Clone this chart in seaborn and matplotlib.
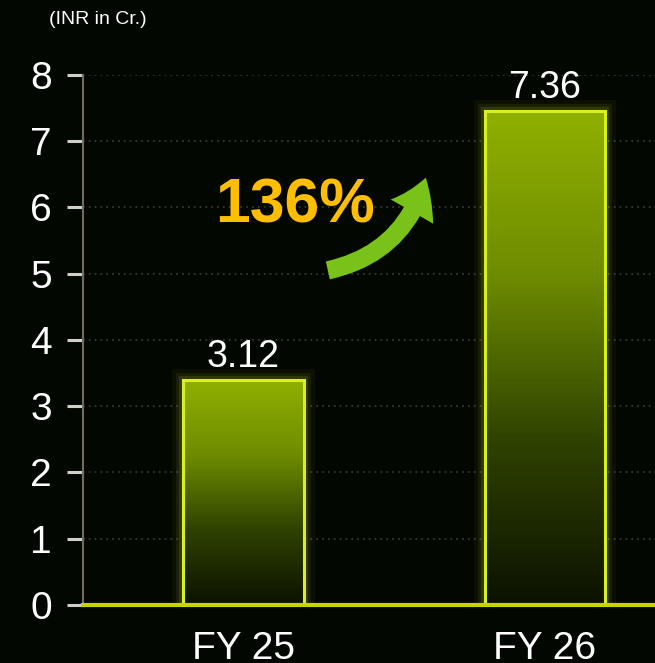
import numpy as np
import pandas as pd
import seaborn as sns
import matplotlib.pyplot as plt
from matplotlib.colors import LinearSegmentedColormap
from matplotlib.patches import Rectangle

# data
categories = ['FY 25', 'FY 26']
bar_heights = [3.40, 7.46]          # drawn height of each bar
value_labels = ['3.12', '7.36']     # text printed above bars
growth_label = '136%'
y_ticks = [0, 1, 2, 3, 4, 5, 6, 7, 8]
unit_label = '(INR in Cr.)'

bg = '#030702'
edge_col = '#d8f01e'
sns.set_style('dark', {'axes.facecolor': bg, 'figure.facecolor': bg})
plt.rcParams['font.family'] = ['Liberation Sans', 'DejaVu Sans']

fig = plt.figure(figsize=(6.55, 6.63), dpi=100, facecolor=bg)
ax = fig.add_axes([0.1267, 0.0875, 0.8733, 0.7995])
ax.set_facecolor(bg)

df = pd.DataFrame({'year': categories, 'height': bar_heights})
sns.barplot(data=df, x='year', y='height', width=0.4, color='#8aab00', ax=ax, zorder=2)

# gradient fill + glowing edge
cmap = LinearSegmentedColormap.from_list('bar', ['#0b1200', '#2f4200', '#6e8c00', '#90b000'])
grad = np.linspace(0, 1, 256).reshape(-1, 1)
for patch in list(ax.patches):
    x0, w, h = patch.get_x(), patch.get_width(), patch.get_height()
    im = ax.imshow(grad, extent=[x0, x0 + w, 0, h], cmap=cmap, aspect='auto',
                   origin='lower', zorder=2)
    im.set_clip_path(patch)
    patch.set_facecolor('none')
    patch.set_edgecolor(edge_col)
    patch.set_linewidth(2.2)
    patch.set_zorder(3)
    for lw, a in [(16, 0.04), (10, 0.07), (6, 0.12)]:
        ax.add_patch(Rectangle((x0, 0), w, h, fill=False, ec=edge_col, lw=lw,
                               alpha=a, zorder=1.9))

# value labels
for i, (h, lab) in enumerate(zip(bar_heights, value_labels)):
    ax.annotate(lab, (i, h), xytext=(0, 9), textcoords='offset points',
                ha='center', va='baseline', fontsize=27, color='white')

# growth arrow and text
ax.annotate('', xy=(0.605, 6.45), xytext=(0.28, 5.05),
            arrowprops=dict(arrowstyle='simple,head_length=1.2,head_width=1.6,tail_width=0.6',
                            connectionstyle='arc3,rad=0.3', color='#78c21a', lw=0,
                            mutation_scale=22, shrinkA=0, shrinkB=0),
            zorder=4)
ax.text(0.17, 5.78, growth_label, ha='center', va='baseline', fontsize=45,
        fontweight='bold', color='#ffbf00', zorder=4)

ax.set_xlim(-0.532, 1.365)
ax.set_ylim(0, 8)
ax.set_yticks(y_ticks)
ax.set_xlabel('')
ax.set_ylabel('')

ax.yaxis.grid(True, color='#3b4130', linestyle=(0, (1, 2.5)), linewidth=1.2)
ax.xaxis.grid(False)
ax.set_axisbelow(True)

ax.tick_params(axis='y', left=True, colors='#d0d0c8', labelcolor='white',
               labelsize=28, length=11.5, width=2.2, pad=11)
ax.tick_params(axis='x', bottom=False, labelcolor='white', labelsize=28, pad=15)

for s in ['top', 'right']:
    ax.spines[s].set_visible(False)
ax.spines['left'].set_color('#6f6f58')
ax.spines['left'].set_linewidth(1.5)
ax.spines['bottom'].set_color('#c8d400')
ax.spines['bottom'].set_linewidth(3)
ax.spines['bottom'].set_zorder(5)

fig.text(98 / 655, 1 - 19 / 663, unit_label, ha='center', va='center',
         fontsize=14, color='white')

fig.savefig('out.png', dpi=100, facecolor=bg)
